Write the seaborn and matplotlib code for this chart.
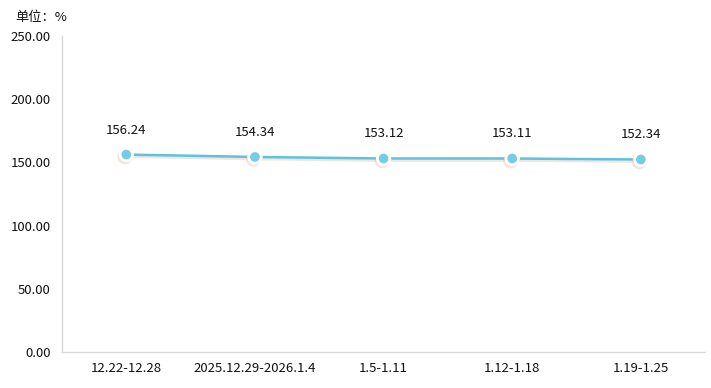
import matplotlib
matplotlib.use("Agg")
import matplotlib.pyplot as plt
import seaborn as sns
import pandas as pd
import matplotlib.patheffects as pe

categories = ["12.22-12.28", "2025.12.29-2026.1.4", "1.5-1.11", "1.12-1.18", "1.19-1.25"]
values = [156.24, 154.34, 153.12, 153.11, 152.34]
yticks = [0, 50, 100, 150, 200, 250]

sns.set_theme(style="white")
plt.rcParams['font.family'] = ['Noto Sans CJK SC', 'DejaVu Sans']

df = pd.DataFrame({"week": categories, "value": values})

fig = plt.figure(figsize=(7.11, 3.88), dpi=100)
ax = fig.add_axes([0.0872, 0.0928, 0.9046, 0.8142])

line_color = "#5bc3dc"
sns.lineplot(data=df, x="week", y="value", ax=ax, color=line_color, linewidth=1.8,
             marker="o", markersize=9, markerfacecolor="#74cde3",
             markeredgecolor="white", markeredgewidth=2, sort=False,
             path_effects=[pe.SimpleLineShadow(offset=(-1, -1.5), shadow_color="#e6b0a4", alpha=0.35),
                           pe.Normal()])

for i, v in enumerate(values):
    ax.annotate(f"{v:.2f}", (i, v), xytext=(0, 13), textcoords="offset points",
                ha="center", va="bottom", fontsize=9.5, color="#111111")

ax.set_xlim(-0.5, len(categories) - 0.5)
ax.set_ylim(0, 250)
ax.set_yticks(yticks)
ax.set_yticklabels([f"{t:.2f}" for t in yticks])
ax.set_xlabel("")
ax.set_ylabel("")
ax.tick_params(axis="both", length=0, labelsize=9.5, colors="#111111")
ax.tick_params(axis="x", pad=7)
ax.tick_params(axis="y", pad=8)
for s in ["top", "right"]:
    ax.spines[s].set_visible(False)
for s in ["left", "bottom"]:
    ax.spines[s].set_color("#d9d9d9")
    ax.spines[s].set_linewidth(1)

fig.text(15 / 711, 1 - 18 / 388, "单位：%", fontsize=9.5, va="center", ha="left", color="#111111")

fig.savefig("out.png", dpi=100)
